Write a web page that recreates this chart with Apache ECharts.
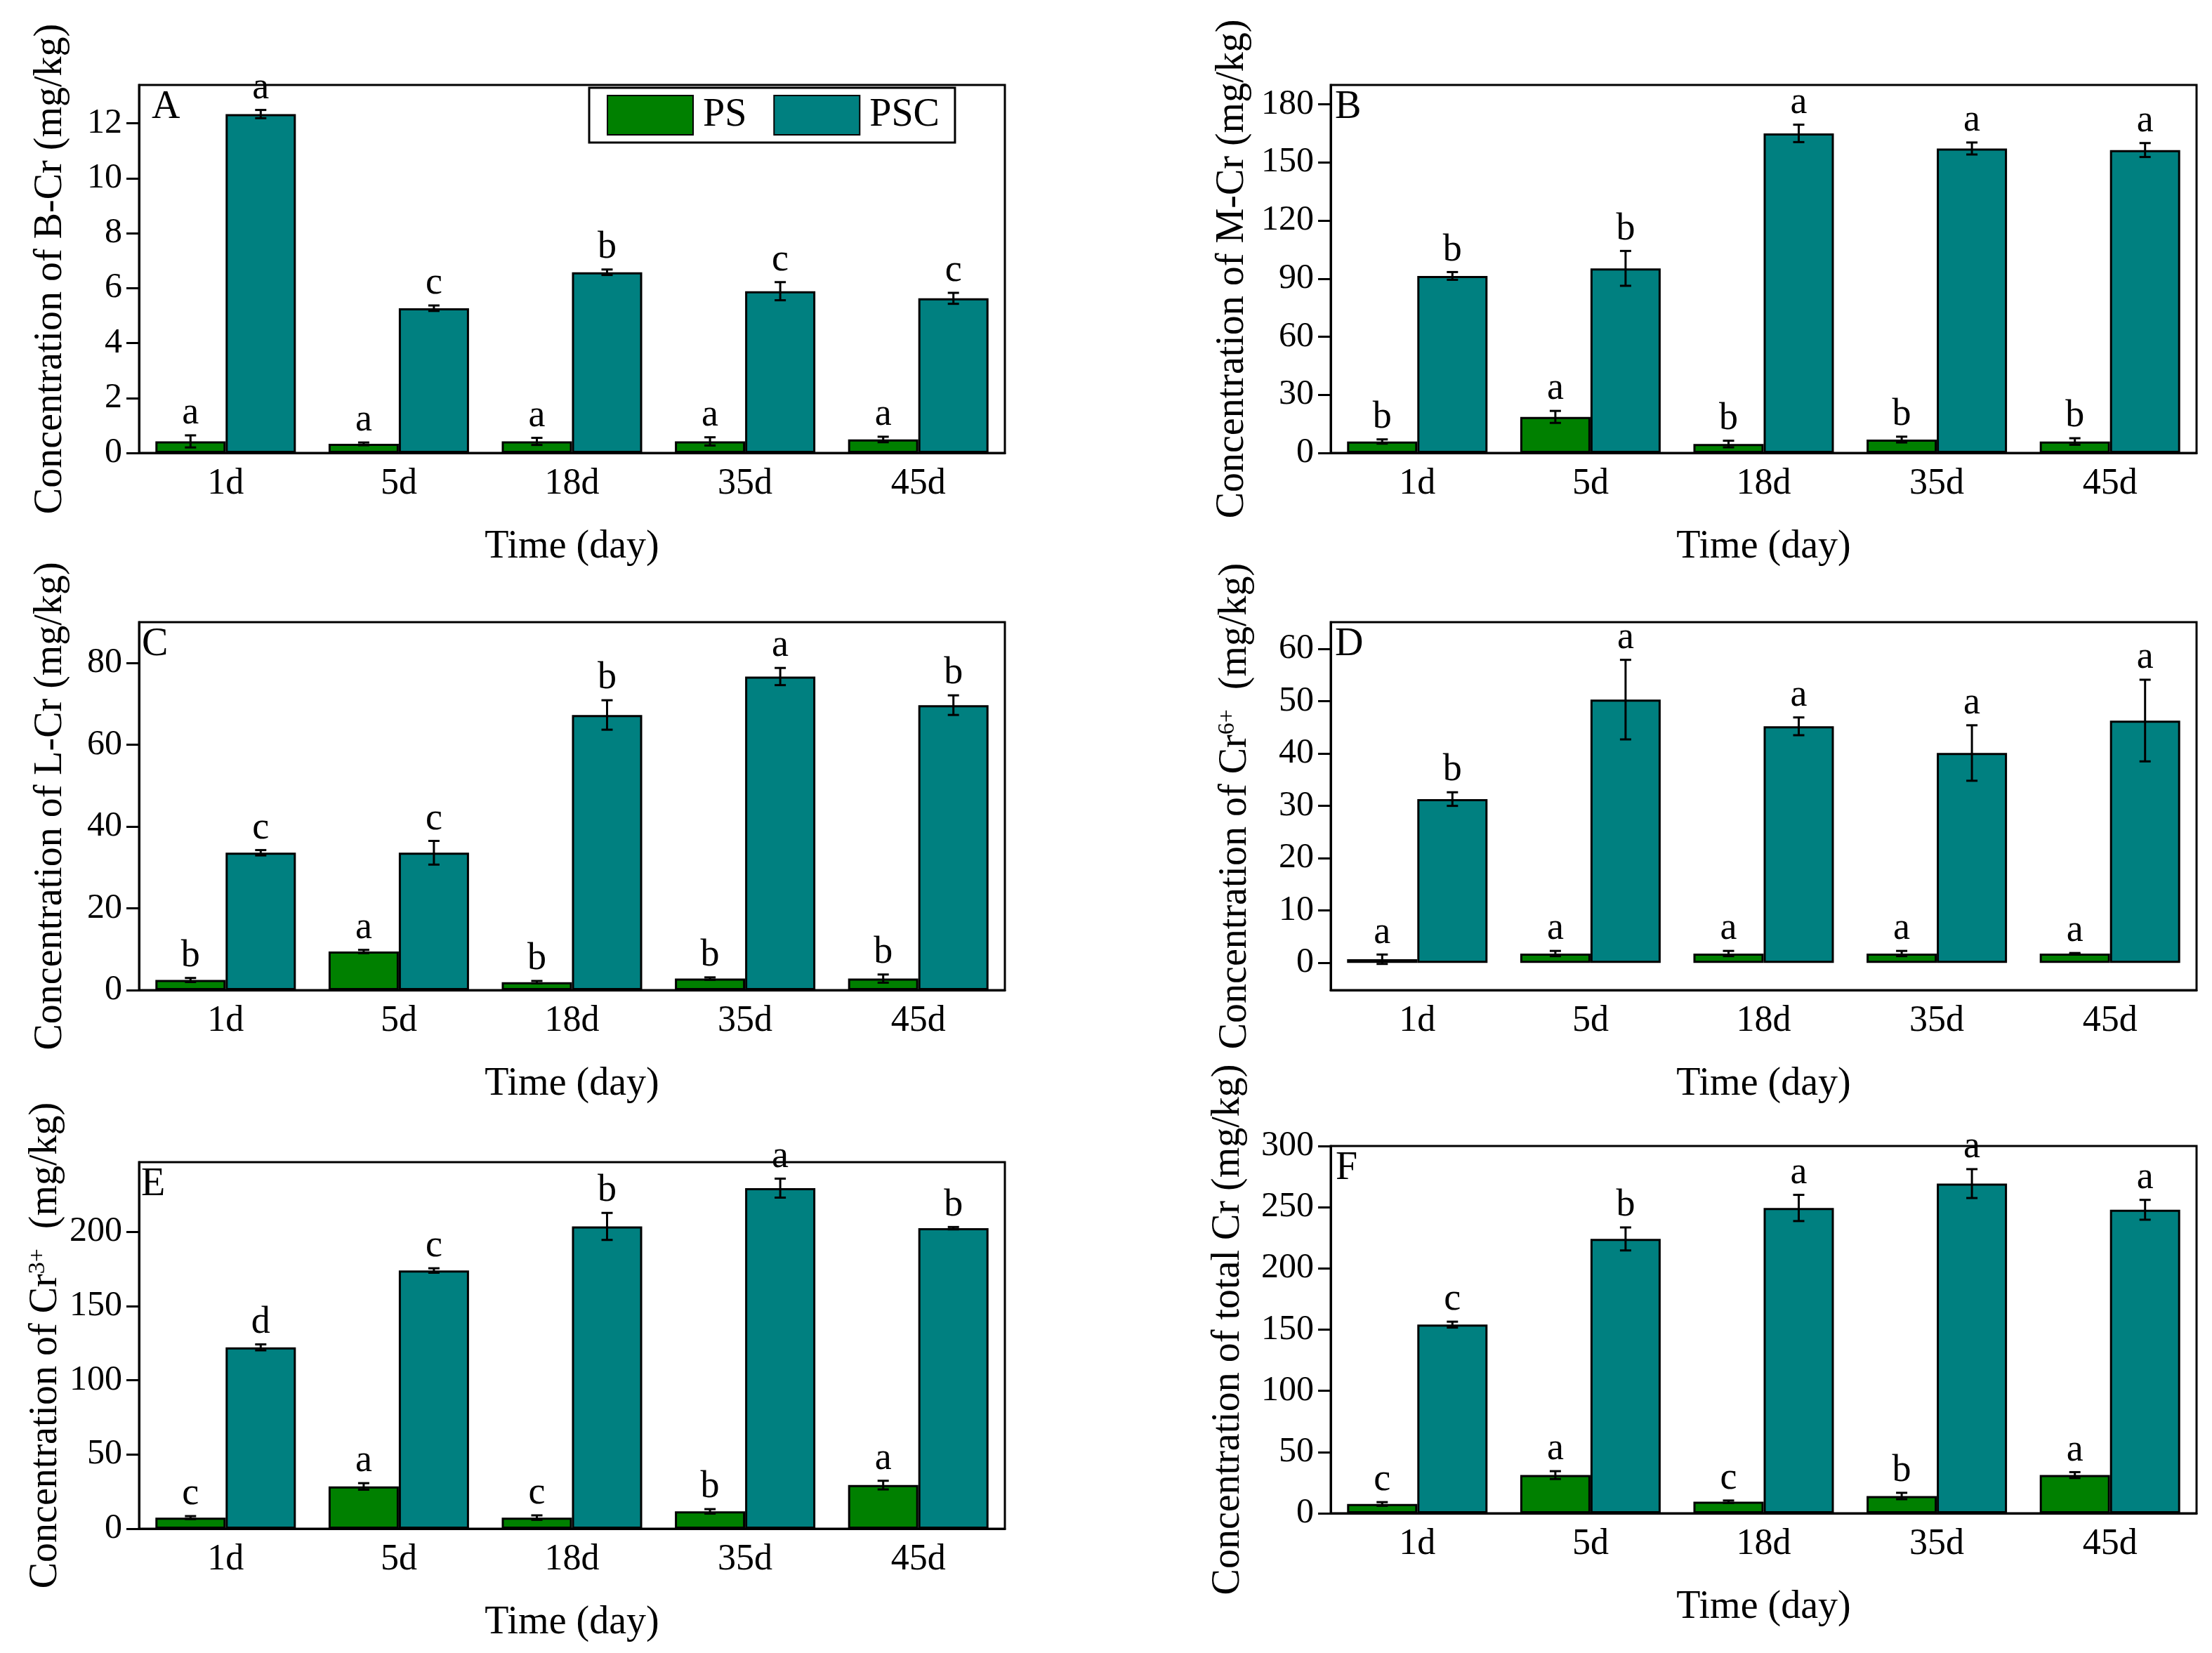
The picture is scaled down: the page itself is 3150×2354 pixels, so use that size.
<!DOCTYPE html>
<html>
<head>
<meta charset="utf-8">
<script src="https://cdn.jsdelivr.net/npm/echarts@6/dist/echarts.min.js"></script>
<style>
  html, body { margin: 0; padding: 0; background: #fff; }
  #main { width: 3150px; height: 2354px; }
</style>
</head>
<body>
<div id="main"></div>
<script>
// sampling days
const days = ['1d', '5d', '18d', '35d', '45d'];

// A: B-Cr
const psA = [0.42, 0.33, 0.42, 0.42, 0.49];
const psErrA = [0.22, 0.05, 0.13, 0.15, 0.1];
const pscA = [12.34, 5.27, 6.58, 5.89, 5.63];
const pscErrA = [0.15, 0.1, 0.1, 0.33, 0.2];
const psLetA = ['a', 'a', 'a', 'a', 'a'];
const pscLetA = ['a', 'c', 'b', 'c', 'c'];
const ticksA = [0, 2, 4, 6, 8, 10, 12];

// B: M-Cr
const psB = [5.9, 18.6, 4.6, 6.9, 5.9];
const psErrB = [1.1, 3.1, 1.7, 1.5, 1.7];
const pscB = [91.4, 95.3, 165.0, 157.2, 156.4];
const pscErrB = [2, 9, 4.5, 3.1, 3.6];
const psLetB = ['b', 'a', 'b', 'b', 'b'];
const pscLetB = ['b', 'b', 'a', 'a', 'a'];
const ticksB = [0, 30, 60, 90, 120, 150, 180];

// C: L-Cr
const psC = [2.47, 9.44, 1.94, 2.82, 2.82];
const psErrC = [0.5, 0.4, 0.3, 0.3, 1.0];
const pscC = [33.6, 33.6, 67.3, 76.7, 69.7];
const pscErrC = [0.65, 2.9, 3.6, 2.1, 2.4];
const psLetC = ['b', 'a', 'b', 'b', 'b'];
const pscLetC = ['c', 'c', 'b', 'a', 'b'];
const ticksC = [0, 20, 40, 60, 80];

// D: Cr6+
const psD = [0.7, 1.79, 1.79, 1.79, 1.79];
const psErrD = [0.9, 0.5, 0.5, 0.5, 0.1];
const pscD = [31.3, 50.3, 45.2, 40.1, 46.3];
const pscErrD = [1.3, 7.6, 1.7, 5.3, 7.8];
const psLetD = ['a', 'a', 'a', 'a', 'a'];
const pscLetD = ['b', 'a', 'a', 'a', 'a'];
const ticksD = [0, 10, 20, 30, 40, 50, 60];

// E: Cr3+
const psE = [7.5, 28.5, 7.5, 11.7, 29.4];
const psErrE = [1, 2.2, 1.5, 1.5, 2.9];
const pscE = [122.2, 174.0, 203.7, 229.5, 202.5];
const pscErrE = [2, 1.5, 9.1, 6.4, 0.8];
const psLetE = ['c', 'a', 'c', 'b', 'a'];
const pscLetE = ['d', 'c', 'b', 'a', 'b'];
const ticksE = [0, 50, 100, 150, 200];

// F: total Cr
const psF = [7.6, 31.2, 9.4, 14.1, 31.2];
const psErrF = [1.5, 3.2, 1, 2.6, 2.4];
const pscF = [154.1, 224.1, 249.4, 269.3, 247.9];
const pscErrF = [2.4, 9.4, 10.7, 11.8, 8.1];
const psLetF = ['c', 'a', 'c', 'b', 'a'];
const pscLetF = ['c', 'b', 'a', 'a', 'a'];
const ticksF = [0, 50, 100, 150, 200, 250, 300];

const FONT = '"Liberation Serif", "Times New Roman", serif';
const PS_COLOR = '#008000';
const PSC_COLOR = '#008080';
const BAR_W = 100;

const panels = [
  { tag: 'A', tagDx: 18, yName: 'Concentration of B-Cr (mg/kg)', min: 0, max: 13.4, ticks: ticksA,
    ps: psA, psErr: psErrA, psc: pscA, pscErr: pscErrA, psLet: psLetA, pscLet: pscLetA,
    grid: { left: 198, top: 121, width: 1233, height: 524 }, gap: 98 },
  { tag: 'B', tagDx: 6, yName: 'Concentration of M-Cr (mg/kg)', min: 0, max: 190, ticks: ticksB,
    ps: psB, psErr: psErrB, psc: pscB, pscErr: pscErrB, psLet: psLetB, pscLet: pscLetB,
    grid: { left: 1895, top: 121, width: 1233, height: 524 }, gap: 112 },
  { tag: 'C', tagDx: 4, yName: 'Concentration of L-Cr (mg/kg)', min: 0, max: 90, ticks: ticksC,
    ps: psC, psErr: psErrC, psc: pscC, pscErr: pscErrC, psLet: psLetC, pscLet: pscLetC,
    grid: { left: 198, top: 886, width: 1233, height: 524 }, gap: 98 },
  { tag: 'D', tagDx: 6, yName: 'Concentration of Cr{sup|6+}  (mg/kg)', min: -5.2, max: 65.1, ticks: ticksD,
    ps: psD, psErr: psErrD, psc: pscD, pscErr: pscErrD, psLet: psLetD, pscLet: pscLetD,
    grid: { left: 1895, top: 886, width: 1233, height: 524 }, gap: 108 },
  { tag: 'E', tagDx: 3, yName: 'Concentration of Cr{sup|3+}  (mg/kg)', min: 0, max: 247, ticks: ticksE,
    ps: psE, psErr: psErrE, psc: pscE, pscErr: pscErrE, psLet: psLetE, pscLet: pscLetE,
    grid: { left: 198, top: 1655, width: 1233, height: 522 }, gap: 105 },
  { tag: 'F', tagDx: 7, yName: 'Concentration of total Cr (mg/kg)', min: 0, max: 300, ticks: ticksF,
    ps: psF, psErr: psErrF, psc: pscF, pscErr: pscErrF, psLet: psLetF, pscLet: pscLetF,
    grid: { left: 1895, top: 1632, width: 1233, height: 523 }, gap: 118 }
];

// error bar + significance letter, shifted to the bar's center
function errorRenderer(shift) {
  return function (params, api) {
    const i = api.value(0);
    const v = api.value(1);
    const e = api.value(2);
    const x = api.coord([i, v])[0] + shift;
    const yTop = api.coord([i, v + e])[1];
    const yBot = api.coord([i, v - e])[1];
    const line = { stroke: '#000', lineWidth: 3 };
    return {
      type: 'group',
      children: [
        { type: 'line', shape: { x1: x, y1: yTop, x2: x, y2: yBot }, style: line },
        { type: 'line', shape: { x1: x - 8, y1: yTop, x2: x + 8, y2: yTop }, style: line },
        { type: 'line', shape: { x1: x - 8, y1: yBot, x2: x + 8, y2: yBot }, style: line },
        { type: 'text', style: {
            x: x, y: yTop - 4, text: api.value(3),
            font: '54px ' + FONT, fill: '#000', align: 'center', verticalAlign: 'bottom' } }
      ]
    };
  };
}

const grids = [], xAxes = [], yAxes = [], series = [], titles = [];

panels.forEach((p, k) => {
  grids.push(Object.assign({ show: true, borderColor: '#000', borderWidth: 3 }, p.grid));
  titles.push({
    text: p.tag, left: p.grid.left + p.tagDx, top: p.grid.top + 4, padding: 0,
    textStyle: { fontFamily: FONT, fontSize: 56, fontWeight: 'normal', color: '#000' }
  });
  xAxes.push({
    gridIndex: k, type: 'category', data: days,
    name: 'Time (day)', nameLocation: 'middle', nameGap: 106,
    nameTextStyle: { fontFamily: FONT, fontSize: 56, color: '#000' },
    axisLine: { onZero: false, lineStyle: { color: '#000', width: 3 } },
    axisTick: { alignWithLabel: true, length: 12, lineStyle: { width: 3, color: '#000' } },
    axisLabel: { fontFamily: FONT, fontSize: 52, color: '#000', margin: 18 }
  });
  yAxes.push({
    gridIndex: k, type: 'value', min: p.min, max: p.max,
    name: p.yName, nameLocation: 'middle', nameRotate: 90, nameGap: p.gap,
    nameTextStyle: {
      fontFamily: FONT, fontSize: 56, color: '#000',
      rich: { sup: { fontFamily: FONT, fontSize: 34, color: '#000', verticalAlign: 'top', padding: [0, 0, 22, 0] } }
    },
    splitLine: { show: false },
    axisLine: { show: true, lineStyle: { color: '#000', width: 3 } },
    axisTick: { show: true, length: 18, customValues: p.ticks, lineStyle: { width: 3, color: '#000' } },
    axisLabel: { fontFamily: FONT, fontSize: 50, color: '#000', margin: 24, customValues: p.ticks }
  });
  series.push({
    name: 'PS', type: 'bar', xAxisIndex: k, yAxisIndex: k, data: p.ps,
    barWidth: BAR_W, barGap: '0%',
    itemStyle: { color: PS_COLOR, borderColor: '#000', borderWidth: 3 }
  });
  series.push({
    name: 'PSC', type: 'bar', xAxisIndex: k, yAxisIndex: k, data: p.psc,
    barWidth: BAR_W, barGap: '0%',
    itemStyle: { color: PSC_COLOR, borderColor: '#000', borderWidth: 3 }
  });
  series.push({
    type: 'custom', xAxisIndex: k, yAxisIndex: k, z: 5, clip: false,
    renderItem: errorRenderer(-BAR_W / 2),
    data: days.map((d, i) => [i, p.ps[i], p.psErr[i], p.psLet[i]])
  });
  series.push({
    type: 'custom', xAxisIndex: k, yAxisIndex: k, z: 5, clip: false,
    renderItem: errorRenderer(BAR_W / 2),
    data: days.map((d, i) => [i, p.psc[i], p.pscErr[i], p.pscLet[i]])
  });
});

const chart = echarts.init(document.getElementById('main'), null, { renderer: 'canvas' });
chart.setOption({
  backgroundColor: '#fff',
  animation: false,
  title: titles,
  legend: {
    data: ['PS', 'PSC'],
    left: 839, top: 125,
    orient: 'horizontal',
    icon: 'rect',
    itemWidth: 122, itemHeight: 56, itemGap: 38,
    padding: [10, 22, 10, 25],
    borderColor: '#000', borderWidth: 3,
    textStyle: { fontFamily: FONT, fontSize: 56, color: '#000', padding: [0, 0, 0, 9] }
  },
  grid: grids,
  xAxis: xAxes,
  yAxis: yAxes,
  series: series
});
</script>
</body>
</html>
